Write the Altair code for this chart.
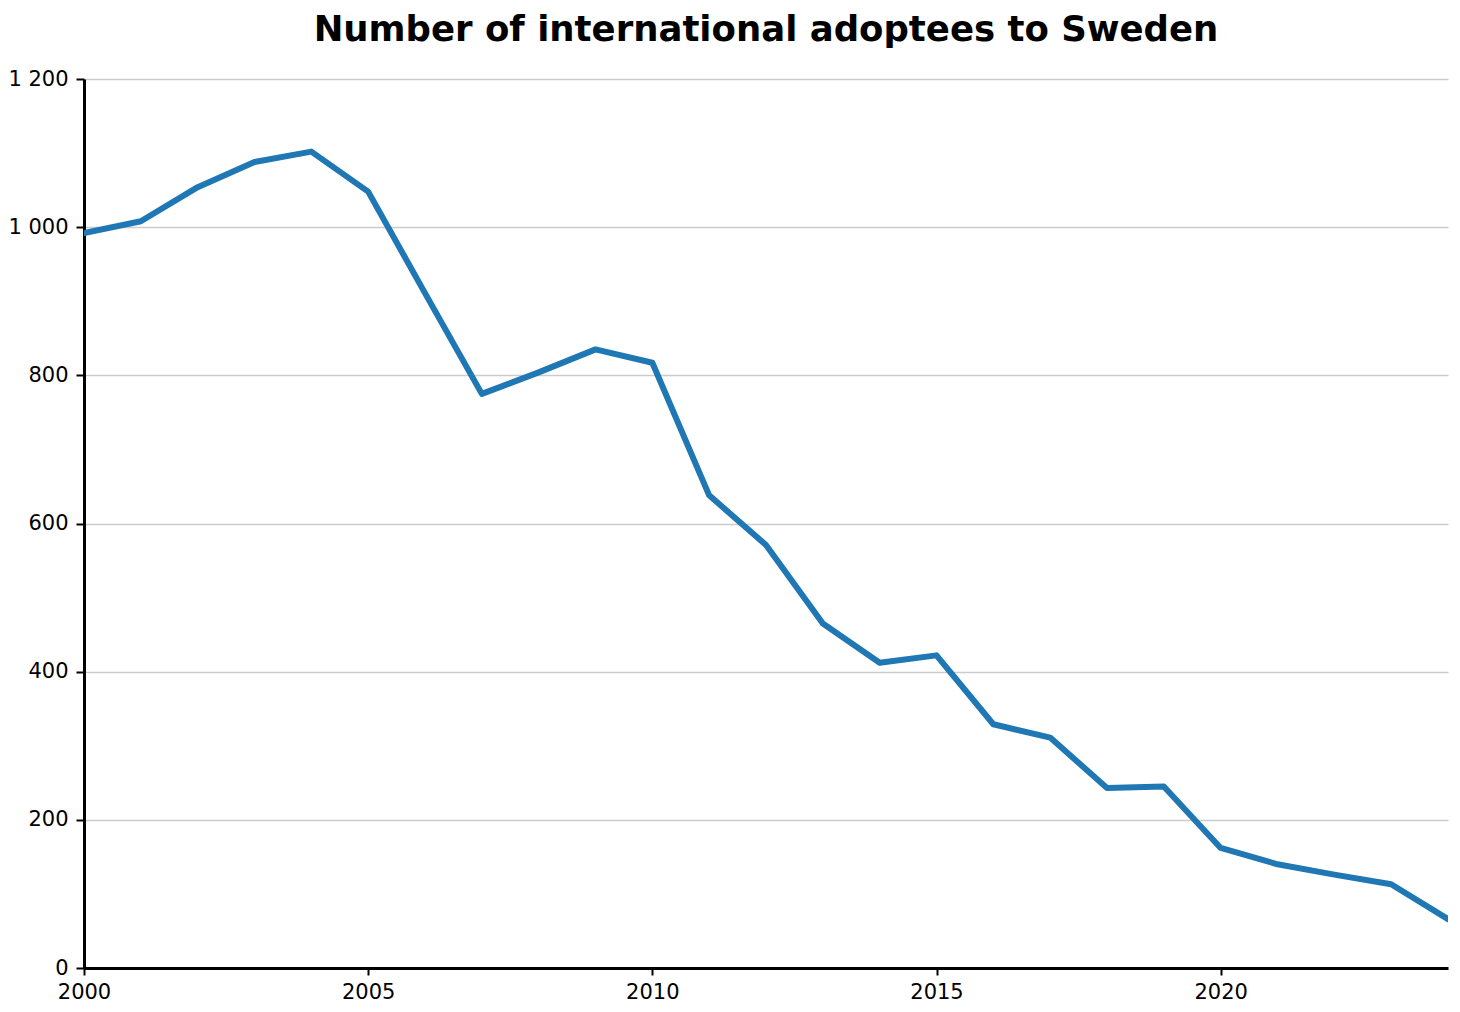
import altair as alt
import pandas as pd

years = list(range(2000, 2025))
adoptees = [992, 1008, 1054, 1088, 1102, 1048, 911, 775, 804, 835, 817, 638,
            571, 465, 412, 422, 329, 311, 243, 245, 162, 140, 126, 113, 66]

df = pd.DataFrame({"year": years, "adoptees": adoptees})

FONT = "DejaVu Sans"

chart = alt.Chart(df).mark_line(color="#1f77b4", strokeWidth=6, strokeCap="round", strokeJoin="round", clip=True).encode(
    x=alt.X("year:Q",
            scale=alt.Scale(domain=[2000, 2024], nice=False, zero=False),
            axis=alt.Axis(title=None, values=[2000, 2005, 2010, 2015, 2020], format="d",
                          grid=False, domainColor="black", domainWidth=3,
                          tickColor="black", tickWidth=2, tickSize=7,
                          labelFont=FONT, labelFontSize=21, labelColor="black",
                          labelPadding=6, labelFlush=False)),
    y=alt.Y("adoptees:Q",
            scale=alt.Scale(domain=[0, 1200], nice=False),
            axis=alt.Axis(title=None, values=[0, 200, 400, 600, 800, 1000, 1200],
                          labelExpr="replace(format(datum.value, ','), ',', ' ')",
                          grid=True, gridColor="#cccccc", gridWidth=1.5,
                          domainColor="black", domainWidth=3,
                          tickColor="black", tickWidth=2, tickSize=8,
                          labelFont=FONT, labelFontSize=21, labelColor="black",
                          labelPadding=8)),
).properties(
    width=1364,
    height=889,
    title=alt.TitleParams("Number of international adoptees to Sweden",
                          font=FONT, fontSize=35.5, fontWeight="bold", color="black",
                          anchor="middle", frame="group", offset=20),
    padding={"left": 76, "top": 71, "right": 4, "bottom": 36},
    autosize=alt.AutoSizeParams(type="none"),
).configure_view(stroke=None)

chart.save("out.html", embed_options={"renderer": "svg", "actions": False})
